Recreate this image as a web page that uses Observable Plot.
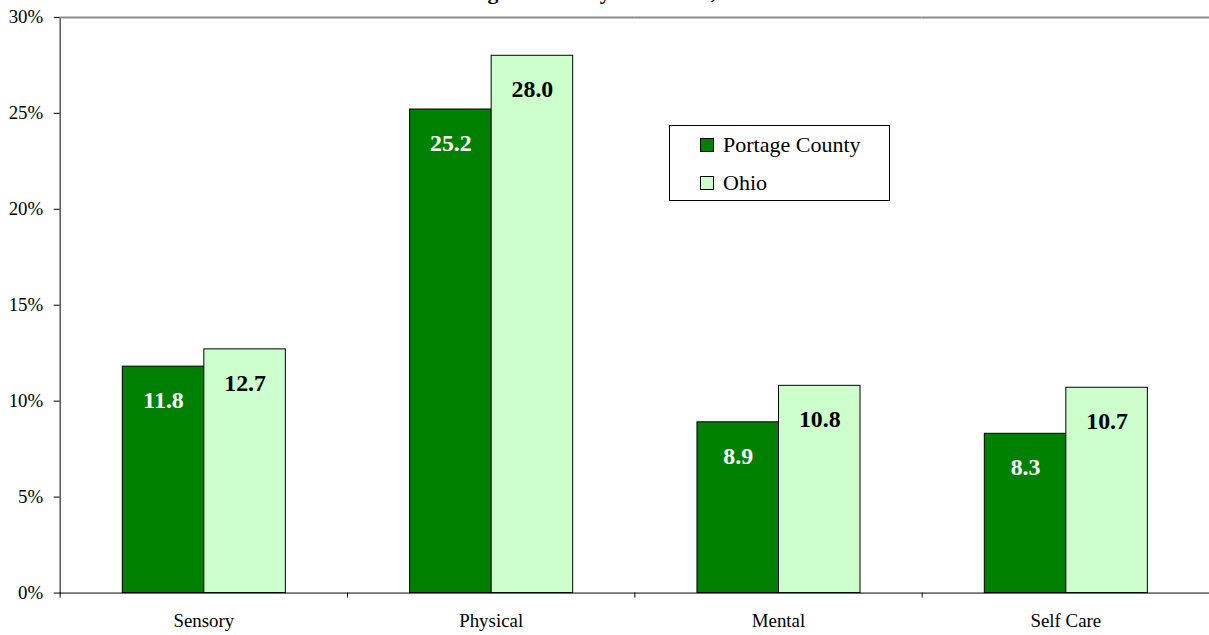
<!DOCTYPE html>
<html>
<head>
<meta charset="utf-8">
<script src="https://cdn.jsdelivr.net/npm/d3@7"></script>
<script src="https://cdn.jsdelivr.net/npm/@observablehq/plot@0.6"></script>
<style>
  html, body { margin: 0; padding: 0; background: #fff; overflow: hidden; }
  #wrap { position: relative; width: 1209px; height: 635px; overflow: hidden; font-family: "Liberation Serif", "Times New Roman", serif; }
  #title { position: absolute; left: 334px; top: -19px; font-size: 22px; line-height: 22px; font-weight: bold; white-space: nowrap; color: #000; }
  #legend { position: absolute; left: 669px; top: 125px; width: 221px; height: 76px; box-sizing: border-box; border: 1px solid #000; background: #fff; }
  .sw { position: absolute; left: 30px; width: 14px; height: 14px; box-sizing: border-box; border: 1px solid #000; }
  .lt { position: absolute; left: 53px; font-size: 22px; line-height: 22px; white-space: nowrap; color: #000; }
  svg { position: absolute; left: 0; top: 0; }
</style>
</head>
<body>
<div id="wrap">
  <div id="chart"></div>
  <div id="title"></div>
  <div id="legend"></div>
</div>
<script>
const titleText = "Residents Having a Disability Condition, 2000";
const categories = ["Sensory", "Physical", "Mental", "Self Care"];
const series = ["Portage County", "Ohio"];
const portage = [11.8, 25.2, 8.9, 8.3];
const ohio = [12.7, 28.0, 10.8, 10.7];
const yTicks = [0, 5, 10, 15, 20, 25, 30];
const colors = ["#008000", "#ccffcc"];
const labelColors = ["#ffffff", "#000000"];

const data = [];
categories.forEach((c, i) => {
  data.push({category: c, series: series[0], value: portage[i]});
  data.push({category: c, series: series[1], value: ohio[i]});
});

const chart = Plot.plot({
  width: 1216,
  height: 635,
  marginTop: 17,
  marginBottom: 39,
  marginLeft: 60,
  marginRight: 0,
  style: {fontFamily: "'Liberation Serif', 'Times New Roman', serif", fontSize: "19px", background: "transparent", color: "#000", overflow: "visible"},
  fx: {domain: categories, padding: 0, axis: "bottom", label: null, tickSize: 0, tickPadding: 21},
  x: {domain: series, paddingInner: 0, paddingOuter: 0.741, axis: null},
  y: {domain: [0, 30], ticks: yTicks, tickFormat: d => d + "%", tickSize: 6, tickPadding: 11, label: null, line: true},
  color: {domain: series, range: colors},
  marks: [
    Plot.ruleY([30], {stroke: "#8c8c8c", strokeWidth: 2}),
    Plot.barY(data, {fx: "category", x: "series", y: "value", fill: "series", stroke: "#000", strokeWidth: 1}),
    Plot.text(data, {fx: "category", x: "series", y: "value", text: d => d.value.toFixed(1), dy: 34,
      fill: d => labelColors[series.indexOf(d.series)], fontSize: 24, fontWeight: "bold"}),
    Plot.ruleY([0], {stroke: "#000", strokeWidth: 1})
  ]
});

// boundary ticks between category groups, from the library's scales
const fx = chart.scale("fx");
const ys = chart.scale("y");
const y0 = ys.apply(0);
const g = d3.select(chart).append("g").attr("stroke", "#000").attr("stroke-width", 1);
categories.forEach(c => {
  const xx = Math.round(fx.apply(c)) + 0.5;
  g.append("line").attr("x1", xx).attr("x2", xx).attr("y1", y0).attr("y2", y0 + 5);
});

document.getElementById("chart").appendChild(chart);
document.getElementById("title").textContent = titleText;

const legend = document.getElementById("legend");
series.forEach((s, i) => {
  const sw = document.createElement("div");
  sw.className = "sw";
  sw.style.top = (12 + i * 38) + "px";
  sw.style.background = colors[i];
  legend.appendChild(sw);
  const t = document.createElement("div");
  t.className = "lt";
  t.style.top = (8 + i * 38) + "px";
  t.textContent = s;
  legend.appendChild(t);
});
</script>
</body>
</html>
